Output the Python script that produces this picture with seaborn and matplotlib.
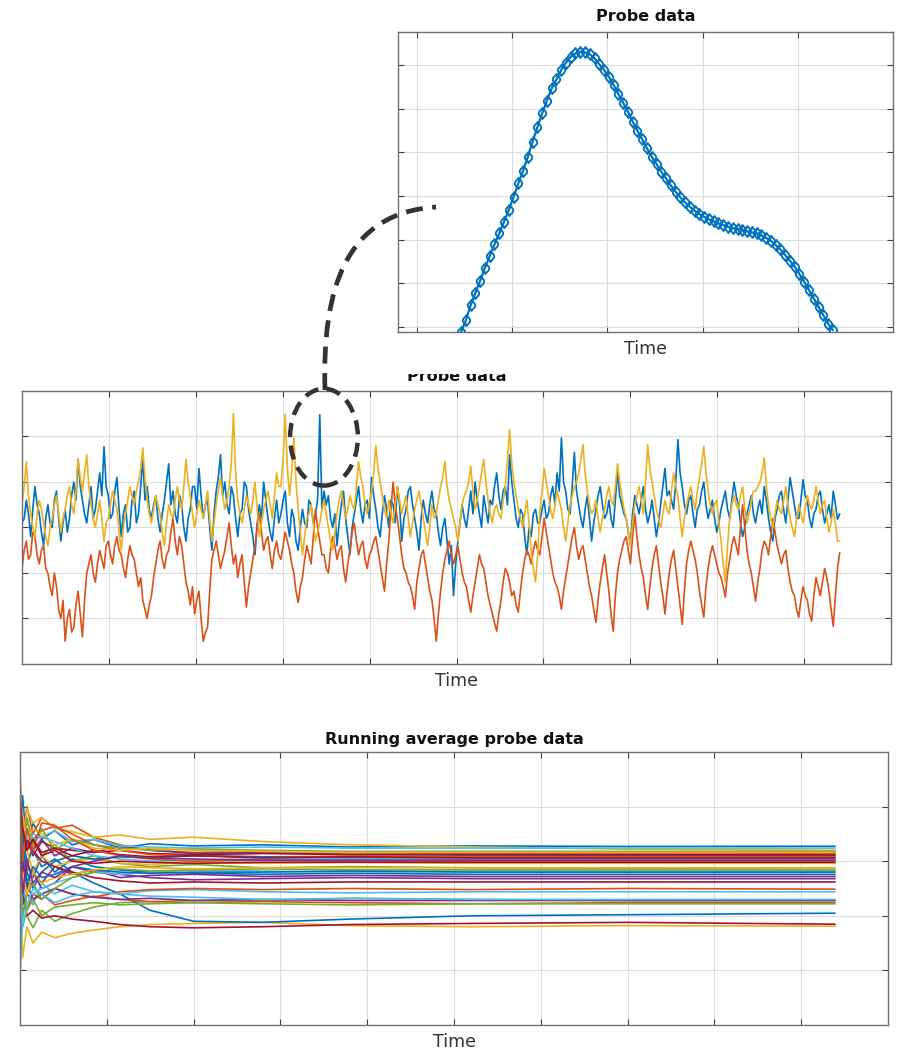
import numpy as np
import pandas as pd
import matplotlib
matplotlib.use("Agg")
import matplotlib.pyplot as plt
from matplotlib.patches import Ellipse, PathPatch, Rectangle
from matplotlib.path import Path
import seaborn as sns

# ---------------- data ----------------
# Inset (zoomed probe signal)
inset_values = [-0.107, 0.160, 0.503, 0.786, 1.060, 1.358, 1.625, 1.892, 2.143, 2.410,
                2.677, 2.982, 3.288, 3.577, 3.898, 4.241, 4.569, 4.889, 5.179, 5.462,
                5.667, 5.881, 6.049, 6.186, 6.262, 6.301, 6.285, 6.239, 6.148, 6.011,
                5.881, 5.728, 5.538, 5.332, 5.134, 4.928, 4.699, 4.493, 4.294, 4.088,
                3.898, 3.730, 3.555, 3.402, 3.242, 3.097, 2.967, 2.853, 2.754, 2.662,
                2.586, 2.525, 2.464, 2.418, 2.372, 2.334, 2.296, 2.265, 2.243, 2.220,
                2.189, 2.166, 2.143, 2.098, 2.044, 1.976, 1.876, 1.777, 1.648, 1.518,
                1.381, 1.213, 1.037, 0.847, 0.656, 0.465, 0.275, 0.084, -0.069]
inset_t_start, inset_t_end = 1.463, 5.368

# Probe data (three probes), 20 samples per row
probe_blue = [
    0.1, 0.2, 0.6, 0.3, -0.2, 0.4, 0.9, 0.5, 0.3, -0.1, -0.4, 0.2, 0.5, 0.1, 0.0, 0.6, 0.8, 0.2, -0.3, 0.1,
    0.4, -0.1, 0.2, 0.7, 1.0, 0.6, 1.5, 0.9, 0.6, 0.3, 0.1, 0.5, 0.9, 0.2, 0.4, 0.8, 1.2, 0.7, 1.78, 0.9,
    0.7, 0.2, 0.3, 0.8, 1.1, 0.4, -0.2, 0.3, 0.5, -0.1, 0.0, 0.6, 0.8, 0.1, 0.3, 0.9, 1.5, 0.6, 0.9, 0.4,
    0.2, 0.5, 0.7, 0.2, -0.1, 0.3, 0.6, 1.0, 1.4, 0.5, 0.8, 0.3, 0.1, 0.7, 0.5, 0.0, -0.3, 0.2, 0.4, 0.9,
    0.9, 0.4, 1.3, 0.7, 0.2, 0.5, 0.6, 0.0, -0.5, 0.3, 0.8, 1.1, 1.6, 0.7, 1.0, 0.5, 0.3, 0.9, 0.7, 0.2,
    -0.2, 0.3, 0.4, 1.0, 0.9, 0.4, 0.1, -0.2, -0.6, 0.1, 0.5, 0.2, 1.0, 0.6, 0.2, -0.1, -0.3, 0.2, 0.6, 0.1,
    0.3, 0.6, 0.8, 0.1, -0.2, 0.4, 0.2, -0.3, -0.5, 0.0, 0.4, 0.1, 0.0, 0.6, 0.5, 0.1, 0.3, 0.6, 2.48, 0.4,
    0.8, 0.5, 0.7, 0.2, 0.0, 0.3, -0.4, 0.1, 0.5, 0.8, 0.2, -0.2, -0.6, 0.0, 0.3, 0.6, 0.9, 0.4, 0.1, 0.5,
    0.6, 0.2, 1.1, 0.7, 0.4, 0.0, -0.2, 0.3, 0.7, 0.4, 0.0, 0.6, 0.5, 0.1, 0.9, 0.5, -0.3, 0.2, 0.4, 0.8,
    0.9, 0.5, 0.2, -0.1, -0.5, 0.2, 0.6, 0.3, 0.1, 0.5, 0.8, 0.4, 0.3, -0.1, -0.4, 0.0, 0.2, -0.3, -0.8, -0.4,
    -1.5, -0.8, -0.3, 0.1, 0.5, 0.2, 0.0, 0.4, 0.8, 0.3, 1.0, 0.6, 0.3, 0.0, 0.7, 0.4, 0.1, 0.6, 0.5, 0.9,
    1.2, 0.7, 0.4, 0.8, 0.9, 0.5, 1.6, 1.0, 0.6, 0.2, 0.0, 0.4, 0.3, -0.2, -0.6, 0.0, -0.2, 0.3, 0.4, 0.1,
    0.1, 0.4, 0.6, 0.2, 0.3, 0.7, 0.9, 0.5, 1.2, 0.8, 1.97, 1.0, 0.8, 0.4, 0.3, 0.9, 1.65, 0.8, 0.5, 0.2,
    0.0, 0.4, 0.7, 0.2, -0.3, 0.1, 0.4, 0.7, 0.9, 0.5, 0.2, 0.3, 0.6, 0.2, 0.0, 0.6, 1.25, 0.7, 0.5, 0.3,
    0.2, -0.1, -0.4, 0.3, 0.7, 0.5, 0.3, 0.6, 0.9, 0.4, 0.1, 0.3, 0.6, 0.2, -0.2, 0.1, 0.5, 0.9, 1.3, 0.7,
    0.8, 0.6, 0.4, 1.0, 1.93, 1.2, 0.9, 0.5, 0.3, 0.6, 0.7, 0.3, 0.0, 0.4, 0.5, 0.8, 1.0, 0.5, 0.2, 0.4,
    0.6, 0.2, -0.1, 0.1, 0.4, 0.6, 0.8, 0.4, 0.2, 0.6, 1.0, 0.7, 0.5, 0.1, -0.2, 0.0, 0.3, 0.5, 0.7, 0.3,
    0.1, 0.4, 0.6, 0.3, 0.9, 0.6, 0.2, -0.1, -0.3, 0.2, 0.4, 0.7, 0.8, 0.4, 0.1, 0.6, 1.1, 0.8, 0.5, 0.2,
    0.2, 0.6, 1.05, 0.7, 0.6, 0.2, 0.0, 0.3, 0.4, 0.7, 0.8, 0.4, 0.1, 0.3, 0.5, 0.2, 0.8, 0.5, 0.18, 0.3,
]
probe_orange = [
    -0.9, -0.5, -0.3, -0.7, -0.6, -0.1, -0.2, -0.6, -0.8, -0.5, -0.4, -0.9, -1.0, -1.3, -1.5, -1.0, -1.3, -1.8, -2.0, -1.6,
    -2.5, -2.0, -1.8, -2.3, -2.2, -1.7, -1.4, -1.9, -2.4, -1.6, -1.0, -0.8, -0.6, -1.0, -1.2, -0.8, -0.5, -0.7, -0.9, -0.4,
    -0.3, -0.6, -0.8, -0.4, -0.2, -0.5, -0.6, -0.9, -1.1, -0.7, -0.4, -0.6, -0.7, -1.0, -1.3, -1.1, -1.6, -1.8, -2.0, -1.7,
    -1.5, -1.1, -0.8, -0.5, -0.3, -0.7, -0.9, -0.6, -0.5, -0.1, 0.2, -0.3, -0.6, -0.2, -0.4, -0.8, -1.2, -1.4, -1.7, -1.3,
    -1.9, -1.6, -1.4, -2.0, -2.5, -2.3, -2.2, -1.4, -0.7, -0.5, -0.3, -0.6, -0.9, -0.7, -0.5, -0.2, 0.1, -0.4, -0.8, -0.6,
    -1.1, -0.8, -0.6, -1.2, -1.75, -1.3, -1.0, -0.7, -0.4, 0.0, 0.3, -0.1, -0.5, -0.3, -0.2, -0.6, -0.9, -0.5, -0.3, -0.6,
    -0.7, -0.4, -0.1, -0.3, -0.5, -0.8, -1.0, -1.4, -1.65, -1.3, -1.1, -0.7, -0.4, -0.6, -0.8, -0.2, 0.4, 0.0, -0.3, -0.6,
    -0.6, -0.9, -1.0, -0.5, -0.2, -0.4, -0.7, -0.5, -0.4, -0.9, -1.2, -0.8, -0.5, -0.1, 0.1, -0.3, -0.6, -0.4, -0.3, -0.7,
    -0.9, -0.6, -0.5, -0.3, -0.2, -0.5, -0.8, -1.1, -1.4, -0.8, -0.3, 0.4, 1.0, 0.5, 0.2, -0.2, -0.6, -0.9, -1.0, -1.2,
    -1.3, -1.5, -1.8, -1.2, -0.9, -0.6, -0.5, -0.8, -1.1, -1.4, -1.6, -2.0, -2.5, -1.9, -1.4, -1.0, -0.7, -0.5, -0.3, -0.6,
    -0.8, -0.6, -0.4, -0.7, -1.0, -1.2, -1.3, -1.6, -1.86, -1.5, -1.2, -0.9, -0.6, -0.8, -0.9, -1.2, -1.5, -1.7, -1.9, -2.1,
    -2.28, -1.9, -1.6, -1.2, -0.9, -1.0, -1.2, -1.5, -1.4, -1.7, -1.86, -1.4, -1.0, -0.7, -0.5, -0.6, -0.8, -0.5, -0.3, -0.5,
    -0.6, -0.2, 0.2, -0.1, -0.4, -0.7, -1.0, -1.2, -1.3, -1.5, -1.8, -1.4, -1.1, -0.8, -0.5, -0.2, 0.0, -0.4, -0.7, -0.5,
    -0.4, -0.7, -1.0, -1.3, -1.5, -1.8, -2.08, -1.6, -1.2, -0.9, -0.6, -1.0, -1.4, -1.9, -2.28, -1.5, -1.0, -0.7, -0.5, -0.3,
    -0.2, -0.5, -0.8, -0.2, 0.3, -0.2, -0.6, -0.9, -1.1, -1.5, -1.8, -1.3, -0.9, -0.6, -0.4, -0.8, -1.2, -1.5, -1.9, -1.4,
    -1.0, -0.7, -0.5, -0.9, -1.3, -1.7, -2.13, -1.4, -0.8, -0.5, -0.3, -0.5, -0.7, -1.0, -1.4, -1.7, -1.97, -1.3, -0.9, -0.6,
    -0.4, -0.6, -0.8, -1.0, -1.1, -1.3, -1.53, -1.0, -0.7, -0.4, -0.2, -0.4, -0.6, 0.0, 0.5, 0.0, -0.5, -0.8, -1.0, -1.3,
    -1.62, -1.2, -0.9, -0.5, -0.3, -0.4, -0.6, -0.2, 0.2, -0.1, -0.4, -0.6, -0.8, -0.6, -0.5, -0.9, -1.2, -1.4, -1.5, -1.8,
    -1.97, -1.6, -1.3, -1.5, -1.6, -1.9, -2.06, -1.5, -1.1, -1.3, -1.5, -1.2, -0.9, -1.1, -1.4, -1.8, -2.17, -1.5, -0.9, -0.55,
]
probe_yellow = [
    0.5, 0.9, 1.45, 0.7, 0.3, 0.0, -0.2, 0.3, 0.6, 0.4, 0.1, -0.2, -0.4, 0.0, 0.2, 0.5, 0.7, 0.3, -0.1, 0.2,
    0.4, 0.7, 0.9, 0.5, 0.3, 0.8, 1.5, 1.1, 0.8, 1.2, 1.6, 0.9, 0.5, 0.2, 0.0, 0.3, 0.6, 0.2, -0.3, 0.1,
    0.2, 0.5, 0.8, 0.6, 0.4, -0.1, -0.5, 0.0, 0.3, 0.6, 0.9, 0.7, 0.5, 0.8, 1.0, 1.3, 1.75, 1.1, 0.6, 0.3,
    0.1, 0.4, 0.7, 0.5, 0.3, -0.1, -0.4, 0.1, 0.5, 0.3, 0.2, 0.6, 0.9, 0.6, 0.4, 0.9, 1.5, 1.0, 0.7, 0.3,
    0.0, 0.3, 0.6, 0.4, 0.2, 0.5, 0.8, 0.2, -0.3, 0.1, 0.5, 0.8, 1.1, 0.7, 0.4, 0.6, 0.9, 1.4, 2.5, 1.2,
    0.6, 0.3, 0.1, 0.4, 0.7, 0.5, 0.3, 0.6, 1.0, 0.4, -0.2, 0.1, 0.4, 0.6, 0.8, 0.5, 0.2, 0.7, 1.2, 0.9,
    0.9, 1.5, 2.48, 1.3, 0.7, 1.2, 1.97, 1.0, 0.4, -0.1, -0.6, -0.2, 0.2, 0.3, 0.5, 0.1, -0.3, -0.1, 0.1, 0.4,
    0.6, 0.3, 0.0, -0.3, -0.5, -0.1, 0.3, 0.6, 0.8, 0.5, 0.2, 0.4, 0.7, 0.5, 0.4, 0.9, 1.45, 1.1, 0.9, 0.5,
    0.3, 0.5, 0.8, 1.2, 1.8, 1.3, 1.0, 0.7, 0.4, 0.2, 0.6, 0.3, 0.1, 0.5, 0.9, 0.6, 0.3, 0.5, 0.7, 0.2,
    -0.2, 0.1, 0.4, 0.6, 0.8, 0.5, 0.2, -0.1, -0.4, 0.0, 0.5, 0.2, 0.3, 0.6, 0.9, 1.1, 1.45, 0.9, 0.6, 0.4,
    0.2, 0.0, -0.3, 0.1, 0.5, 0.7, 0.8, 1.0, 1.35, 0.8, 0.4, 0.6, 0.9, 1.2, 1.5, 1.0, 0.6, 0.3, 0.1, 0.4,
    0.5, 0.3, 0.2, 0.6, 0.9, 1.5, 2.15, 1.4, 1.0, 0.7, 0.4, 0.2, 0.0, 0.3, 0.6, 0.1, -0.5, -0.9, -1.2, -0.6,
    0.3, 0.8, 1.3, 1.0, 0.7, 0.4, 0.2, 0.5, 0.8, 0.6, 0.4, 0.0, -0.3, 0.1, 0.5, 0.7, 0.9, 1.0, 1.2, 1.5,
    1.82, 1.2, 0.8, 0.5, 0.3, 0.4, 0.6, 0.2, -0.1, 0.2, 0.4, 0.7, 0.9, 0.6, 0.5, 0.9, 1.4, 1.0, 0.7, 0.4,
    0.2, -0.1, -0.4, 0.1, 0.5, 0.7, 0.9, 0.6, 0.3, 1.0, 1.82, 1.3, 1.0, 0.7, 0.4, 0.2, 0.0, 0.3, 0.6, 0.4,
    0.3, 0.8, 1.2, 0.9, 0.7, 0.2, -0.2, 0.2, 0.5, 0.7, 0.9, 0.6, 0.4, 0.8, 1.1, 1.4, 1.78, 1.2, 0.8, 0.5,
    0.3, 0.5, 0.6, 0.1, -0.3, -0.8, -1.2, -0.4, 0.2, 0.5, 0.7, 0.5, 0.4, 0.7, 0.9, 0.4, 0.1, 0.3, 0.6, 0.8,
    0.8, 0.9, 1.0, 1.2, 1.53, 0.9, 0.5, 0.2, 0.0, 0.3, 0.6, 0.4, 0.3, 0.6, 0.9, 0.5, 0.2, 0.0, -0.2, 0.2,
    0.5, 0.3, 0.1, 0.4, 0.7, 0.5, 0.4, 0.6, 0.9, 0.6, 0.3, 0.5, 0.6, 0.2, -0.1, 0.1, 0.4, 0.1, -0.3, -0.3,
]
probe_t_end = 9.41

# Running average probe data
avg_t = [0, 0.03, 0.08, 0.15, 0.25, 0.4, 0.6, 0.85, 1.15, 1.5, 2.0, 2.8, 3.8, 5.2, 7.0, 9.39]
running_avg = [
    [0.3, 0.6, 0.1, 0.35, 0.2, 0.28, 0.15, 0.2, 0.12, 0.16, 0.14, 0.15, 0.13, 0.14, 0.135, 0.137],
    [0.8, 0.2, 0.5, 0.25, 0.4, 0.3, 0.33, 0.22, 0.15, 0.1, 0.08, 0.09, 0.07, 0.075, 0.07, 0.07],
    [-0.3, 0.2, 0.48, 0.35, 0.4, 0.3, 0.27, 0.22, 0.24, 0.2, 0.22, 0.18, 0.15, 0.13, 0.11, 0.10],
    [0.5, -0.2, 0.3, 0.1, 0.2, 0.05, 0.12, 0.08, 0.14, 0.1, 0.07, 0.08, 0.06, 0.055, 0.05, 0.05],
    [0.6, 0.1, 0.37, 0.2, 0.05, 0.15, 0.0, 0.05, -0.02, -0.05, -0.03, -0.06, -0.05, -0.06, -0.065, -0.06],
    [-0.2, 0.3, 0.1, 0.25, 0.22, 0.28, 0.18, 0.2, 0.14, 0.13, 0.12, 0.13, 0.12, 0.12, 0.12, 0.12],
    [0.4, 0.1, 0.2, 0.05, 0.18, 0.12, 0.1, 0.08, 0.1, 0.07, 0.06, 0.07, 0.06, 0.065, 0.06, 0.06],
    [0.2, -0.3, 0.0, -0.15, 0.05, -0.1, 0.02, -0.05, -0.08, -0.1, -0.11, -0.12, -0.11, -0.12, -0.12, -0.12],
    [-0.4, 0.1, -0.1, 0.2, 0.28, 0.32, 0.25, 0.15, 0.1, 0.06, 0.05, 0.04, 0.045, 0.04, 0.04, 0.04],
    [-0.2, -0.88, -0.6, -0.75, -0.65, -0.7, -0.66, -0.63, -0.6, -0.58, -0.57, -0.56, -0.59, -0.6, -0.59, -0.595],
    [-0.5, 0.0, -0.25, -0.1, -0.2, -0.05, -0.12, -0.08, -0.15, -0.13, -0.12, -0.14, -0.13, -0.14, -0.14, -0.14],
    [0.1, -0.3, -0.5, -0.61, -0.45, -0.55, -0.48, -0.42, -0.38, -0.37, -0.36, -0.36, -0.34, -0.35, -0.36, -0.36],
    [-1.1, -0.5, -0.3, -0.4, -0.2, -0.3, -0.22, -0.28, -0.3, -0.27, -0.26, -0.28, -0.29, -0.28, -0.28, -0.28],
    [0.0, -0.3, -0.5, -0.45, -0.52, -0.5, -0.53, -0.55, -0.58, -0.6, -0.61, -0.6, -0.58, -0.57, -0.56, -0.577],
    [0.6, 0.2, 0.0, 0.1, -0.05, 0.02, -0.1, -0.2, -0.3, -0.45, -0.55, -0.56, -0.53, -0.5, -0.49, -0.476],
    [-0.6, -0.2, -0.45, -0.3, -0.35, -0.25, -0.3, -0.33, -0.28, -0.26, -0.25, -0.26, -0.25, -0.26, -0.25, -0.256],
    [0.7, 0.3, 0.1, -0.1, 0.05, -0.05, 0.0, 0.02, -0.02, -0.03, -0.01, -0.02, -0.01, -0.02, -0.02, -0.02],
    [0.3, -0.4, -0.3, -0.1, -0.25, -0.2, -0.05, -0.1, -0.12, -0.15, -0.17, -0.16, -0.15, -0.16, -0.16, -0.16],
    [-0.5, 0.2, 0.4, 0.15, 0.3, 0.1, 0.2, 0.15, 0.12, 0.1, 0.11, 0.1, 0.09, 0.09, 0.09, 0.09],
    [-0.8, -0.2, -0.4, -0.3, -0.25, -0.2, -0.15, -0.1, -0.12, -0.1, -0.08, -0.09, -0.1, -0.09, -0.09, -0.09],
    [0.5, 0.0, 0.2, 0.1, 0.0, -0.05, -0.1, -0.15, -0.18, -0.2, -0.19, -0.2, -0.19, -0.19, -0.19, -0.19],
    [-0.7, -0.3, -0.1, -0.25, -0.1, 0.0, 0.05, 0.02, 0.04, 0.03, 0.05, 0.04, 0.03, 0.03, 0.03, 0.03],
    [0.3, -0.1, -0.3, -0.35, -0.3, -0.4, -0.36, -0.32, -0.35, -0.37, -0.38, -0.37, -0.38, -0.39, -0.38, -0.38],
    [0.1, 0.4, 0.2, 0.3, 0.25, 0.15, 0.2, 0.12, 0.1, 0.12, 0.1, 0.09, 0.08, 0.08, 0.08, 0.08],
    [-0.3, 0.0, -0.2, -0.35, -0.3, -0.25, -0.3, -0.33, -0.35, -0.34, -0.36, -0.35, -0.36, -0.36, -0.36, -0.36],
    [0.2, -0.5, -0.3, -0.2, -0.35, -0.25, -0.15, -0.1, -0.07, -0.09, -0.08, -0.07, -0.08, -0.08, -0.08, -0.08],
    [0.4, 0.1, 0.25, 0.2, 0.22, 0.18, 0.12, 0.05, 0.02, 0.0, 0.01, 0.02, 0.02, 0.02, 0.02, 0.02],
    [-0.4, 0.3, 0.1, 0.2, 0.08, 0.12, 0.05, 0.1, 0.06, 0.04, 0.05, 0.03, 0.04, 0.03, 0.03, 0.03],
    [0.0, 0.3, -0.2, -0.05, -0.15, -0.12, -0.05, -0.08, -0.1, -0.11, -0.1, -0.1, -0.09, -0.1, -0.1, -0.10],
    [0.5, 0.0, 0.3, 0.1, 0.35, 0.33, 0.2, 0.1, 0.05, 0.02, 0.0, 0.01, 0.0, 0.0, 0.0, 0.0],
    [-0.5, -0.1, -0.3, -0.1, -0.2, -0.15, -0.12, -0.08, -0.05, -0.06, -0.07, -0.06, -0.06, -0.06, -0.06, -0.06],
    [0.2, -0.3, 0.0, -0.2, -0.1, -0.15, -0.05, 0.0, 0.05, 0.03, 0.02, 0.01, 0.01, 0.01, 0.01, 0.01],
    [-0.2, -0.6, -0.45, -0.35, -0.5, -0.42, -0.4, -0.38, -0.4, -0.39, -0.38, -0.39, -0.4, -0.39, -0.39, -0.39],
    [-0.3, -0.6, -0.4, -0.25, -0.3, -0.38, -0.32, -0.28, -0.3, -0.32, -0.33, -0.35, -0.34, -0.35, -0.35, -0.35],
    [0.6, 0.3, 0.1, 0.2, 0.05, 0.1, 0.0, -0.02, 0.0, -0.01, -0.02, -0.01, -0.01, -0.01, -0.01, -0.01],
]

matlab_colors = ["#0072BD", "#D95319", "#EDB120", "#7E2F8E", "#77AC30", "#4DBEEE", "#A2142F"]
title_inset = "Probe data"
title_probe = "Probe data"
title_avg = "Running average probe data"
xlabel_text = "Time"

# ---------------- style ----------------
sns.set_theme(style="white")
plt.rcParams["font.family"] = ["DejaVu Sans"]

W, H = 897, 1052
fig = plt.figure(figsize=(W / 100, H / 100), dpi=100)
fig.patch.set_facecolor("white")


def px_box(left, top, right, bottom):
    return [left / W, 1 - bottom / H, (right - left) / W, (bottom - top) / H]


def style_axes(ax):
    ax.set_facecolor("white")
    for s in ax.spines.values():
        s.set_visible(True)
        s.set_color("#707070")
        s.set_linewidth(1.0)
    ax.grid(True, color="#dddddd", linewidth=0.8)
    ax.set_axisbelow(True)
    ax.tick_params(direction="in", length=4, width=0.8, color="#404040",
                   top=True, right=True, bottom=True, left=True,
                   labelbottom=False, labelleft=False)
    ax.set_ylabel("")


label_kw = dict(fontsize=12.5, color="#333333", labelpad=6)
title_kw = dict(fontsize=11.5, fontweight="bold", color="#111111")

# ---------------- middle: probe data ----------------
ax_mid = fig.add_axes(px_box(22, 391, 891, 664))
t_probe = np.linspace(0, probe_t_end, len(probe_blue))
df_probe = pd.DataFrame({
    "t": np.concatenate([t_probe] * 3),
    "v": np.concatenate([probe_blue, probe_orange, probe_yellow]),
    "probe": ["p1"] * len(t_probe) + ["p2"] * len(t_probe) + ["p3"] * len(t_probe),
})
sns.lineplot(data=df_probe, x="t", y="v", hue="probe", palette=matlab_colors[:3],
             estimator=None, sort=False, legend=False, linewidth=1.2, ax=ax_mid)
ax_mid.set_xlim(0, 10)
ax_mid.set_ylim(-3, 3)
ax_mid.set_xticks(range(1, 10))
ax_mid.set_yticks([-2, -1, 0, 1, 2])
style_axes(ax_mid)
ax_mid.set_title(title_probe, pad=7, **title_kw)
ax_mid.set_xlabel(xlabel_text, **label_kw)

# dashed ellipse around the spike (in data coords of the middle axes)
ell = Ellipse((3.475, 1.985), width=0.78, height=2.13, fill=False,
              edgecolor="#333333", linewidth=3.2, linestyle=(0, (3.2, 1.9)),
              zorder=10, clip_on=False)
ax_mid.add_patch(ell)

# ---------------- bottom: running average ----------------
ax_bot = fig.add_axes(px_box(20, 752, 888, 1025))
n_lines = len(running_avg)
df_avg = pd.DataFrame({
    "t": np.tile(avg_t, n_lines),
    "v": np.concatenate(running_avg),
    "probe": np.repeat(np.arange(n_lines), len(avg_t)),
})
pal = [matlab_colors[i % 7] for i in range(n_lines)]
sns.lineplot(data=df_avg, x="t", y="v", hue="probe", palette=pal,
             estimator=None, sort=False, legend=False, linewidth=1.2, ax=ax_bot)
ax_bot.set_xlim(0, 10)
ax_bot.set_ylim(-1.5, 1.0)
ax_bot.set_xticks(range(1, 10))
ax_bot.set_yticks([-1, -0.5, 0, 0.5])
style_axes(ax_bot)
ax_bot.set_title(title_avg, pad=6, **title_kw)
ax_bot.set_xlabel(xlabel_text, **label_kw)

# ---------------- mask behind inset ----------------
mask = Rectangle((388 / W, 1 - 374 / H), (W - 388) / W, 374 / H,
                 transform=fig.transFigure, facecolor="white", edgecolor="none", zorder=1)
fig.patches.append(mask)

# ---------------- inset ----------------
ax_in = fig.add_axes(px_box(398, 32, 893, 332))
ax_in.set_zorder(2)
t_inset = np.linspace(inset_t_start, inset_t_end, len(inset_values))
df_in = pd.DataFrame({"t": t_inset, "v": inset_values})
sns.lineplot(data=df_in, x="t", y="v", color=matlab_colors[0], linewidth=1.6,
             marker="o", markersize=5.5, markerfacecolor="none",
             markeredgecolor=matlab_colors[0], markeredgewidth=1.0, ax=ax_in)
sns.lineplot(data=df_in, x="t", y="v", color=matlab_colors[0], linewidth=0,
             marker="d", markersize=6.5, markerfacecolor="none",
             markeredgecolor=matlab_colors[0], markeredgewidth=1.0, ax=ax_in)
ax_in.set_xlim(0.8, 6.0)
ax_in.set_ylim(-0.11, 6.75)
ax_in.set_xticks([1, 2, 3, 4, 5])
ax_in.set_yticks([0, 1, 2, 3, 4, 5, 6])
style_axes(ax_in)
ax_in.set_title(title_inset, pad=8, **title_kw)
ax_in.set_xlabel(xlabel_text, **label_kw)

# ---------------- connecting dashed curve ----------------
pts_px = [(325, 390), (322, 290), (345, 213), (436, 207)]
verts = [(x / W, 1 - y / H) for x, y in pts_px]
path = Path(verts, [Path.MOVETO, Path.CURVE4, Path.CURVE4, Path.CURVE4])
curve = PathPatch(path, transform=fig.transFigure, fill=False, edgecolor="#333333",
                  linewidth=3.4, linestyle=(0, (3.6, 2.0)), zorder=5)
fig.patches.append(curve)

fig.savefig("out.png", dpi=100, facecolor="white")
